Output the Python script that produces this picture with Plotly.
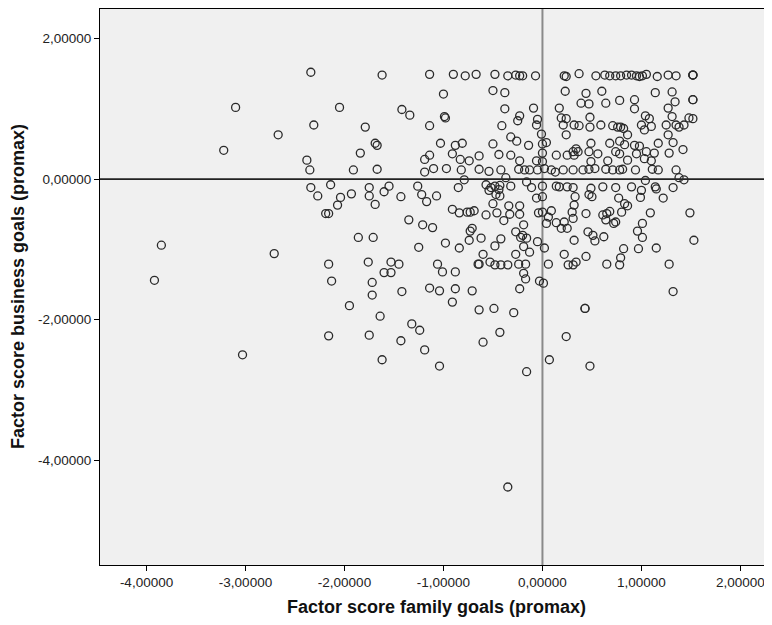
import plotly.graph_objects as go

# Factor scores (family goals = x, business goals = y)
family_goals = [
    -3.85, -3.92, -3.10, -3.22, -2.67, -2.71, -3.03,
    -2.34, -1.62, -1.14, -2.05, -1.42, -1.34, -2.31, -1.79, -1.14, -1.69, -1.67, -1.84, -2.38, -1.19, -1.14,
    -2.35, -1.91, -1.67, -1.19, -2.34, -2.14, -2.27, -2.04, -2.07, -1.93, -1.75, -1.75, -1.69, -1.60, -1.55,
    -1.43, -1.26, -1.22, -1.17, -2.19, -2.16, -1.35, -1.21, -1.86, -1.71, -1.25, -2.16, -1.76, -1.53, -1.45,
    -1.60, -1.53,
    -2.13, -1.72, -1.72, -1.42, -1.14, -1.95, -1.64, -1.32, -1.24, -2.16, -1.75, -1.43, -1.19, -1.62,
    -0.90, -0.78, -0.67, -0.48, -0.35, -0.27, -0.23, -0.20, -0.07, 0.22, 0.24, -1.00, -0.50, -0.38, 0.23,
    -0.38, -0.09, 0.17, -0.99, -0.98, -0.23, -0.25, -0.05, 0.19, 0.24, -0.41, -0.06, 0.21, -0.01, -0.32,
    -0.26, 0.24, -1.03, -0.88, -0.81, -0.50, -0.14, 0.00, 0.04, -0.91, -0.64, -0.44, -0.32, 0.14, 0.00,
    0.25, -0.83, -0.74, -0.23, -0.06, 0.00,
    -1.10, -0.97, -0.82, -0.64, -0.54, -0.42, -0.24, -0.18, -0.13, -0.05, 0.02, 0.09, 0.13, 0.21, -0.79,
    -0.85, -0.57, -0.52, -0.48, -0.43, -0.54, -0.44, -0.32, -0.37, -0.16, 0.00, -0.11, 0.14, 0.17, 0.25,
    -1.07, -0.43, -0.47, -0.06, 0.00, -0.50, -0.91, -0.84, -0.76, -0.73, -0.69, -0.57, -0.46, -0.34, -0.33,
    -0.23, -0.23, -0.39, -0.04, 0.00, 0.09, 0.06, 0.04, 0.14, 0.19, 0.22, 0.25, -1.11, -0.71, -0.73, -0.19,
    -0.27, -0.20, -0.22, -0.16, -0.74, -0.62, -0.42, -0.98, -0.48, -0.19, -0.05, 0.02, -0.84, -0.60, -0.27,
    -0.13, 0.22, -0.53, -0.64, -0.65, -0.48, -0.42, -0.35, -0.24, -0.17, -1.06, 0.06, 0.26, -1.01, -0.88,
    -0.19,
    -1.04, -0.88, -0.71, -0.91, -0.64, -0.49, -0.29, -0.17, -0.23, -0.03, 0.01, -0.43, -0.60, 0.24, -1.04,
    0.07, -0.16, -0.35,
    0.37, 0.54, 0.63, 0.68, 0.74, 0.79, 0.85, 0.90, 0.95, 0.98, 1.01, 1.05, 1.16, 1.27, 1.35, 1.52, 1.52,
    1.52, 0.44, 0.60, 1.14, 1.31, 0.39, 0.47, 0.64, 0.78, 0.93, 0.93, 1.34, 1.52, 1.52, 1.27, 0.48, 1.04,
    1.08, 1.31, 1.48, 1.52, 0.32, 0.37, 0.48, 0.59, 0.71, 0.76, 0.79, 0.82, 1.00, 1.10, 1.03, 1.25, 1.35,
    1.38, 1.43, 0.86, 1.27, 0.49, 0.68, 0.78, 0.83, 0.93, 0.98, 1.17, 1.32, 1.05, 0.34, 0.36, 0.32, 0.31,
    0.47, 0.56, 0.74, 0.78, 0.95, 1.13, 1.42, 1.28, 0.66, 0.86, 1.03, 1.10, 0.49,
    0.31, 0.41, 0.47, 0.53, 0.64, 0.71, 0.78, 0.81, 0.94, 1.11, 1.17, 1.35, 1.38, 1.43, 0.31, 0.33, 0.49,
    0.47, 0.50, 0.61, 0.74, 0.90, 1.00, 0.99, 1.04, 1.14, 1.15, 1.22, 1.32, 0.77, 0.83, 0.86, 0.32, 0.30,
    0.44, 0.61, 0.65, 0.68, 0.80, 0.64, 0.72, 0.74, 0.31, 1.09, 1.49, 1.01, 0.96, 1.01, 0.46, 0.51, 0.53,
    0.62, 0.32, 1.53, 0.82, 0.97, 1.15, 0.79, 0.44, 0.34, 0.31, 0.65, 0.78, 1.28,
    1.32, 0.43, 0.43, 0.48,
]
business_goals = [
    -0.94, -1.44, 1.02, 0.41, 0.63, -1.06, -2.50,
    1.52, 1.48, 1.49, 1.02, 0.99, 0.91, 0.77, 0.74, 0.76, 0.51, 0.48, 0.37, 0.27, 0.28, 0.34,
    0.13, 0.13, 0.14, 0.10, -0.12, -0.08, -0.24, -0.26, -0.37, -0.21, -0.12, -0.24, -0.36, -0.18, -0.10,
    -0.25, -0.10, -0.22, -0.32, -0.49, -0.49, -0.58, -0.65, -0.83, -0.83, -0.97, -1.21, -1.18, -1.18, -1.21,
    -1.33, -1.33,
    -1.45, -1.47, -1.65, -1.60, -1.55, -1.80, -1.95, -2.06, -2.15, -2.23, -2.22, -2.30, -2.43, -2.57,
    1.49, 1.47, 1.49, 1.49, 1.47, 1.48, 1.47, 1.47, 1.47, 1.47, 1.46, 1.21, 1.26, 1.23, 1.25,
    1.00, 1.01, 1.01, 0.89, 0.87, 0.90, 0.83, 0.85, 0.87, 0.86, 0.76, 0.77, 0.77, 0.64, 0.60,
    0.54, 0.63, 0.51, 0.48, 0.51, 0.50, 0.48, 0.50, 0.52, 0.36, 0.33, 0.35, 0.34, 0.34, 0.37,
    0.34, 0.28, 0.26, 0.26, 0.26, 0.25,
    0.15, 0.15, 0.13, 0.14, 0.11, 0.13, 0.14, 0.13, 0.13, 0.13, 0.15, 0.13, 0.10, 0.13, -0.01,
    -0.12, -0.08, -0.12, -0.10, -0.09, -0.16, -0.15, -0.10, 0.02, -0.04, -0.10, -0.12, -0.10, -0.11, -0.11,
    -0.24, -0.24, -0.22, -0.27, -0.25, -0.35, -0.43, -0.48, -0.47, -0.47, -0.45, -0.51, -0.48, -0.38, -0.50,
    -0.38, -0.50, -0.59, -0.48, -0.47, -0.45, -0.54, -0.63, -0.62, -0.70, -0.61, -0.70, -0.69, -0.70, -0.74, -0.65,
    -0.75, -0.80, -0.83, -0.84, -0.87, -0.84, -0.85, -0.91, -0.95, -0.96, -0.89, -0.98, -0.98, -1.07, -1.07,
    -1.04, -1.07, -1.18, -1.21, -1.21, -1.22, -1.22, -1.22, -1.21, -1.21, -1.21, -1.21, -1.22, -1.32, -1.32,
    -1.34,
    -1.59, -1.56, -1.59, -1.75, -1.86, -1.84, -1.90, -1.42, -1.56, -1.45, -1.48, -2.18, -2.32, -2.24, -2.66,
    -2.57, -2.74, -4.38,
    1.50, 1.47, 1.48, 1.47, 1.47, 1.47, 1.48, 1.48, 1.47, 1.46, 1.47, 1.49, 1.46, 1.48, 1.47, 1.48, 1.48,
    1.48, 1.22, 1.25, 1.23, 1.24, 1.08, 1.07, 1.08, 1.12, 1.13, 1.00, 1.10, 1.13, 1.13, 1.01, 0.88, 0.90,
    0.86, 0.89, 0.87, 0.86, 0.77, 0.76, 0.74, 0.77, 0.76, 0.74, 0.74, 0.72, 0.77, 0.75, 0.70, 0.77, 0.77,
    0.74, 0.77, 0.63, 0.63, 0.51, 0.51, 0.54, 0.49, 0.48, 0.47, 0.51, 0.52, 0.39, 0.43, 0.39, 0.34, 0.39,
    0.39, 0.36, 0.39, 0.36, 0.36, 0.37, 0.42, 0.37, 0.26, 0.27, 0.29, 0.26, 0.25,
    0.13, 0.13, 0.14, 0.15, 0.14, 0.13, 0.13, 0.14, 0.13, 0.14, 0.13, 0.13, 0.02, -0.01, -0.12, -0.25, -0.13,
    -0.22, -0.25, -0.11, -0.12, -0.11, -0.16, -0.26, -0.02, -0.11, -0.14, -0.27, -0.12, -0.27, -0.35, -0.38, -0.37, -0.47,
    -0.49, -0.51, -0.49, -0.46, -0.47, -0.58, -0.63, -0.61, -0.56, -0.48, -0.48, -0.63, -0.74, -0.83, -0.75, -0.80, -0.88,
    -0.82, -0.87, -0.87, -0.99, -0.99, -0.98, -1.12, -1.10, -1.18, -1.22, -1.21, -1.22, -1.21,
    -1.60, -1.84, -1.84, -2.66,
]

x_tick_vals = [-4, -3, -2, -1, 0, 1, 2]
x_tick_text = ["-4,00000", "-3,00000", "-2,00000", "-1,00000", "0,00000", "1,00000", "2,00000"]
y_tick_vals = [2, 0, -2, -4]
y_tick_text = ["2,00000", "0,00000", "-2,00000", "-4,00000"]

x_title = "Factor score family goals (promax)"
y_title = "Factor score business goals (promax)"

fig = go.Figure()
fig.add_trace(go.Scatter(
    x=family_goals, y=business_goals, mode="markers",
    marker=dict(symbol="circle-open", size=8, color="#2a2a2a", line=dict(width=1.3)),
    hoverinfo="skip", showlegend=False,
))

fig.add_shape(type="line", xref="x", yref="paper", x0=0, x1=0, y0=0, y1=1,
              line=dict(color="#8a8a8a", width=2), layer="below")
fig.add_shape(type="line", xref="paper", yref="y", x0=0, x1=1, y0=0, y1=0,
              line=dict(color="#222222", width=1.6), layer="below")

fig.update_layout(
    width=772, height=625,
    margin=dict(l=92, r=0, t=1, b=68),
    paper_bgcolor="white", plot_bgcolor="#f0f0f0",
    font=dict(family="Liberation Sans, Arial, sans-serif", color="#222222"),
    xaxis=dict(range=[-4.47, 2.40], tickvals=x_tick_vals, ticktext=x_tick_text,
               showgrid=False, zeroline=False, showline=True, linecolor="#000", linewidth=1,
               mirror=True, ticks="outside", ticklen=5, tickcolor="#000",
               tickfont=dict(size=13.5, color="#222")),
    yaxis=dict(range=[-5.49, 2.42], tickvals=y_tick_vals, ticktext=y_tick_text,
               showgrid=False, zeroline=False, showline=True, linecolor="#000", linewidth=1,
               mirror=True, ticks="outside", ticklen=5, tickcolor="#000",
               tickfont=dict(size=13.5, color="#222")),
    annotations=[
        dict(text="<b>%s</b>" % x_title, xref="paper", yref="paper", x=0.5, y=0,
             xanchor="center", yanchor="middle", yshift=-42, xshift=-4, showarrow=False,
             font=dict(size=18, color="#111")),
        dict(text="<b>%s</b>" % y_title, xref="paper", yref="paper", x=0, y=0.5,
             xanchor="center", yanchor="middle", xshift=-82, textangle=-90, showarrow=False,
             font=dict(size=18, color="#111")),
    ],
)

fig.write_html("out.html")
